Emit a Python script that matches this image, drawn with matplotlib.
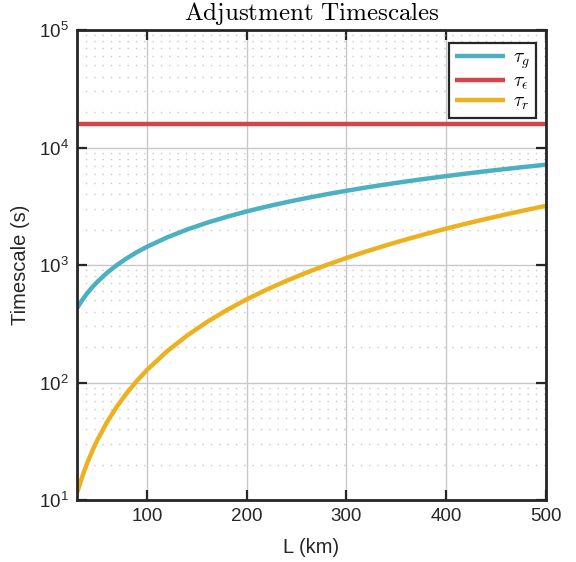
"""
Adjustment timescales vs. length scale, log-y plot in a MATLAB-like style.
"""

import matplotlib
matplotlib.use("Agg")
import matplotlib.pyplot as plt
from matplotlib.ticker import LogLocator, NullFormatter

plt.rcParams["font.family"] = ["Liberation Sans", "DejaVu Sans"]
plt.rcParams["mathtext.fontset"] = "cm"

# L (km) sample points and timescales (s)
L_km = [30, 35, 40, 45, 50, 60, 70, 80, 90, 100, 120, 140, 160, 180, 200,
        220, 240, 260, 280, 300, 320, 340, 360, 380, 400, 420, 440, 460, 480, 500]
tau_g = [429, 500, 572, 643, 714, 857, 1000, 1143, 1286, 1429, 1714, 2000, 2286, 2571, 2857,
         3143, 3429, 3714, 4000, 4286, 4571, 4857, 5143, 5429, 5714, 6000, 6286, 6571, 6857, 7143]
tau_eps = [16000] * len(L_km)
tau_r = [11.5, 15.6, 20.4, 25.8, 31.9, 45.9, 62.5, 81.6, 103.3, 127.6, 183.7, 250, 326.5, 413.3, 510.2,
         617.3, 734.7, 862.2, 1000, 1148, 1306, 1474, 1653, 1842, 2041, 2250, 2469, 2699, 2939, 3189]

x_ticks = [100, 200, 300, 400, 500]

fig = plt.figure(figsize=(5.76, 5.62), dpi=100)
ax = fig.add_axes([0.1337, 0.1103, 0.8143, 0.8363])

ax.plot(L_km, tau_g, color="#4BB0C1", linewidth=3.2, label=r"$\tau_g$", solid_capstyle="butt")
ax.plot(L_km, tau_eps, color="#D6434B", linewidth=3.2, label=r"$\tau_\epsilon$", solid_capstyle="butt")
ax.plot(L_km, tau_r, color="#EDB120", linewidth=3.2, label=r"$\tau_r$", solid_capstyle="butt")

ax.set_yscale("log")
ax.set_xlim(30, 500)
ax.set_ylim(10, 1e5)
ax.set_xticks(x_ticks)
ax.yaxis.set_major_locator(LogLocator(base=10, numticks=10))
ax.yaxis.set_minor_locator(LogLocator(base=10, subs=range(2, 10), numticks=20))
ax.yaxis.set_minor_formatter(NullFormatter())

ax.grid(True, which="major", color="#c8c8c8", linewidth=1.0, linestyle="-")
ax.grid(True, which="minor", axis="y", color="#c8c8c8", linewidth=1.0, linestyle=(0, (1, 5)))
ax.set_axisbelow(True)

ax.tick_params(which="major", direction="in", length=7, width=1.6,
               top=True, right=True, labelsize=13.5, colors="#262626", pad=6)
ax.tick_params(which="minor", length=0)
for sp in ax.spines.values():
    sp.set_linewidth(2.0)
    sp.set_color("#262626")

ax.set_xlabel("L (km)", fontsize=14.5, color="#262626", labelpad=9)
ax.set_ylabel("Timescale (s)", fontsize=14.5, color="#262626", labelpad=6)
ax.set_title(r"$\mathrm{Adjustment\ Timescales}$", fontsize=18, pad=7)

leg = ax.legend(loc="upper right", fontsize=14, handlelength=2.6, fancybox=False,
                framealpha=1, borderpad=0.3, labelspacing=0.1, handletextpad=0.4,
                borderaxespad=0, bbox_to_anchor=(0.9787, 0.9723))
leg.get_frame().set_edgecolor("#262626")
leg.get_frame().set_linewidth(1.6)

fig.savefig("out.png", dpi=100)
